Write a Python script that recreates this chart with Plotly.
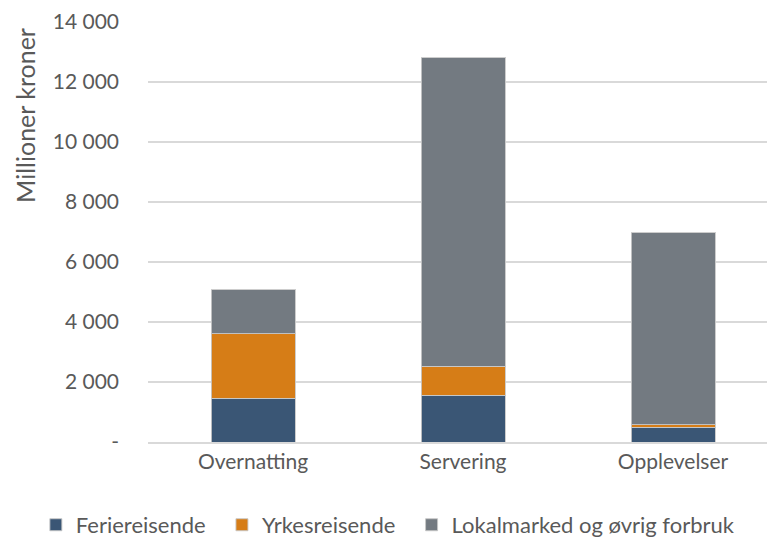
import plotly.graph_objects as go

categories = ["Overnatting", "Servering", "Opplevelser"]
feriereisende = [1450, 1560, 485]
yrkesreisende = [2150, 960, 90]
lokalmarked = [1470, 10280, 6390]

tick_vals = [0, 2000, 4000, 6000, 8000, 10000, 12000, 14000]
tick_text = ["-", "2 000", "4 000", "6 000", "8 000", "10 000", "12 000", "14 000"]

FONT = "Lato"
TXT = "#595959"
edge = dict(color="rgba(200,200,200,0.9)", width=1)
pad = "\u00a0" * 2  # a bit more air between legend entries

fig = go.Figure()
fig.add_trace(go.Bar(x=categories, y=feriereisende, name="Feriereisende" + pad,
                     marker=dict(color="#3A5675", line=edge)))
fig.add_trace(go.Bar(x=categories, y=yrkesreisende, name="Yrkesreisende" + pad,
                     marker=dict(color="#D67D17", line=edge)))
fig.add_trace(go.Bar(x=categories, y=lokalmarked, name="Lokalmarked og øvrig forbruk",
                     marker=dict(color="#737A81", line=edge)))

fig.update_layout(
    width=775, height=538,
    barmode="stack",
    bargap=0.6,
    paper_bgcolor="white",
    plot_bgcolor="white",
    margin=dict(l=140, r=5, t=13, b=104, autoexpand=False),
    font=dict(family=FONT, size=21, color=TXT),
    legend=dict(orientation="h", x=-0.178, xanchor="left", y=-0.197, yanchor="middle",
                font=dict(size=22, color=TXT), itemwidth=30, traceorder="normal"),
    annotations=[dict(text="Millioner kroner", textangle=-90, showarrow=False,
                      xref="paper", yref="paper", x=-0.195, y=0.775,
                      xanchor="center", yanchor="middle",
                      font=dict(size=25, color=TXT))],
)
fig.update_yaxes(range=[0, 14020], tickvals=tick_vals, ticktext=tick_text,
                 showgrid=True, gridcolor="#D9D9D9", gridwidth=1.5, automargin=False,
                 zeroline=False, showline=False, ticks="", ticklabelstandoff=28,
                 ticklabeloverflow="allow", tickfont=dict(size=21, color=TXT))
fig.update_xaxes(showline=True, linecolor="#D9D9D9", linewidth=1.5, ticks="",
                 automargin=False, tickfont=dict(size=21, color=TXT))

fig.write_html("out.html")
